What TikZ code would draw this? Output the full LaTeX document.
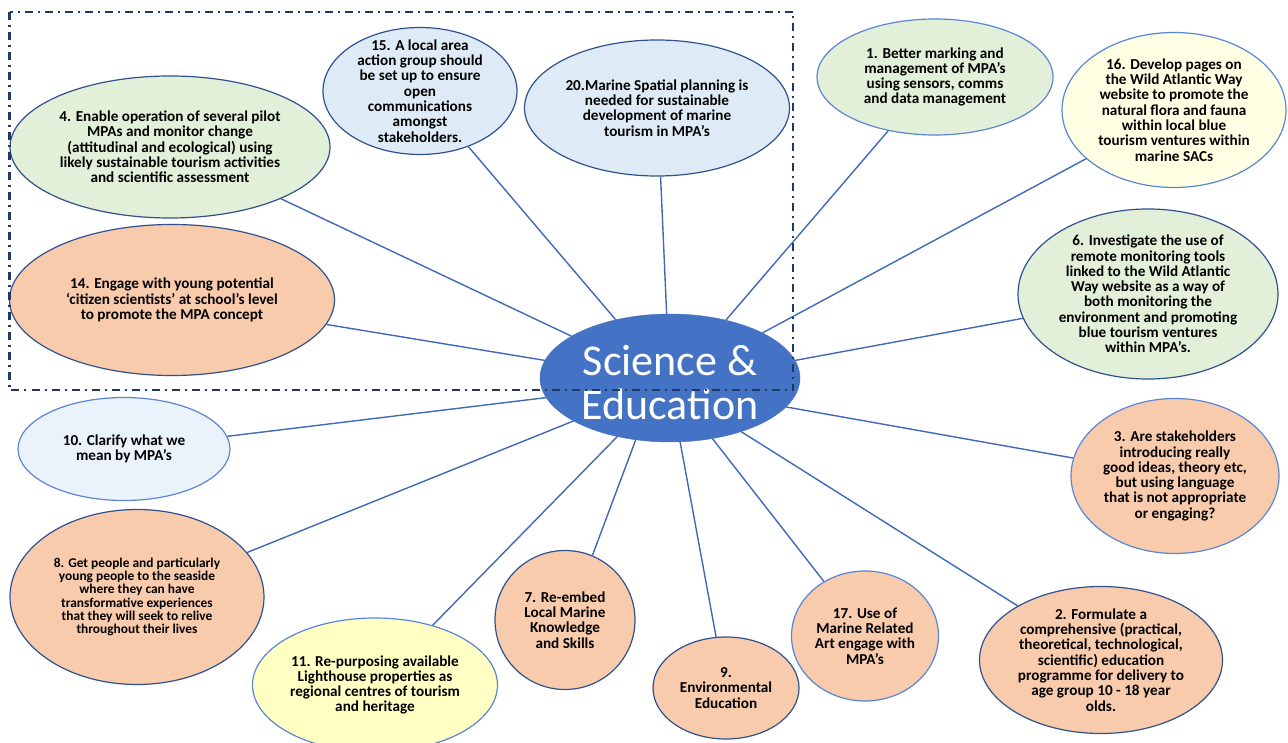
\documentclass[tikz,border=0pt]{standalone}
\usepackage{fontspec}
\setmainfont{Carlito}
\usetikzlibrary{shapes.geometric}
\definecolor{hub}{HTML}{4472C4}
\definecolor{dkb}{HTML}{2F528F}
\definecolor{ltb}{HTML}{5A86D5}
\definecolor{org}{HTML}{F8CBAD}
\definecolor{grn}{HTML}{E2F0D9}
\definecolor{blu}{HTML}{DEEBF7}
\definecolor{pbl}{HTML}{EAF2FB}
\definecolor{ylw}{HTML}{FFFFE3}
\definecolor{yl2}{HTML}{FFFFC4}
\definecolor{navy}{HTML}{1F3864}
\definecolor{conncol}{HTML}{4069B8}
\tikzset{
  bub/.style={ellipse, inner sep=-40pt, align=center, line width=1.2pt,
    font=\fontsize{15.2}{15.3}\selectfont\bfseries},
  small/.style={font=\fontsize{13.4}{13.2}\selectfont\bfseries},
  dk/.style={draw=dkb},
  lt/.style={draw=ltb},
  conn/.style={draw=conncol, line width=1.4pt},
  dashbox/.style={draw=navy, line width=2.2pt, dash pattern=on 8pt off 5pt on 2pt off 5pt},
  hubnode/.style={ellipse, fill=hub, draw=hub, inner sep=-40pt, text=white, align=center,
    font=\fontsize{44}{44}\selectfont}
}
\begin{document}
\begin{tikzpicture}[x=1pt,y=-1pt]
\useasboundingbox (0,0) rectangle (1288,743);
\fill[white] (0,0) rectangle (1288,743);

\node[hubnode, minimum width=260pt, minimum height=128pt] (sci) at (670,378)
  {\rule{0pt}{40pt}Science \&\\Education};

\node[bub, dk, fill=grn, minimum width=320pt, minimum height=142pt] (n4) at (170,147)
  {4. Enable operation of several pilot\\MPAs and monitor change\\(attitudinal and ecological) using\\likely sustainable tourism activities\\and scientific assessment};
\node[bub, dk, fill=org, minimum width=325pt, minimum height=151pt] (n14) at (172,300)
  {14. Engage with young potential\\‘citizen scientists’ at school’s level\\to promote the MPA concept};
\node[bub, dk, fill=blu, minimum width=194pt, minimum height=127pt] (n15) at (420,91)
  {15. A local area\\action group should\\be set up to ensure\\open\\communications\\amongst\\stakeholders.};
\node[bub, dk, fill=blu, minimum width=265pt, minimum height=136pt] (n20) at (657,108)
  {20.Marine Spatial planning is\\needed for sustainable\\development of marine\\tourism in MPA's};
\node[bub, lt, fill=grn, minimum width=236pt, minimum height=116pt] (n1) at (935,77)
  {1. Better marking and\\management of MPA’s\\using sensors, comms\\and data management};
\node[bub, lt, fill=ylw, minimum width=224pt, minimum height=155pt] (n16) at (1174,110)
  {16. Develop pages on\\the Wild Atlantic Way\\website to promote the\\natural flora and fauna\\within local blue\\tourism ventures within\\marine SACs};
\node[bub, dk, fill=grn, minimum width=260pt, minimum height=170pt] (n6) at (1148,294)
  {6. Investigate the use of\\remote monitoring tools\\linked to the Wild Atlantic\\Way website as a way of\\both monitoring the\\environment and promoting\\blue tourism ventures\\within MPA’s.};
\node[bub, lt, fill=pbl, minimum width=212pt, minimum height=103pt] (n10) at (124,449)
  {10. Clarify what we\\mean by MPA's};
\node[bub, dk, small, fill=org, minimum width=254pt, minimum height=175pt] (n8) at (137,597)
  {8. Get people and particularly\\young people to the seaside\\where they can have\\transformative experiences\\that they will seek to relive\\throughout their lives};
\node[bub, lt, fill=yl2, minimum width=245pt, minimum height=134pt] (n11) at (375,685)
  {11. Re-purposing available\\Lighthouse properties as\\regional centres of tourism\\and heritage};
\node[bub, dk, fill=org, minimum width=140pt, minimum height=139pt] (n7) at (565,620)
  {7. Re-embed\\Local Marine\\Knowledge\\and Skills};
\node[bub, dk, fill=org, minimum width=146pt, minimum height=102pt] (n9) at (726,688)
  {9.\\Environmental\\Education};
\node[bub, lt, fill=org, minimum width=147pt, minimum height=130pt] (n17) at (865,636)
  {17. Use of\\Marine Related\\Art engage with\\MPA's};
\node[bub, dk, fill=org, minimum width=243pt, minimum height=147pt] (n2) at (1101,660)
  {2. Formulate a\\comprehensive (practical,\\theoretical, technological,\\scientific) education\\programme for delivery to\\age group 10 - 18 year\\olds.};
\node[bub, lt, fill=org, minimum width=208pt, minimum height=155pt] (n3) at (1175,476)
  {3. Are stakeholders\\introducing really\\good ideas, theory etc,\\but using language\\that is not appropriate\\or engaging?};

\draw[conn] (sci.157.7) -- (n4.-25.3);
\draw[conn] (sci.172.8) -- (n14.-9.5);
\draw[conn] (sci.133.5) -- (n15.-49.9);
\draw[conn] (sci.93.6) -- (n20.-87.5);
\draw[conn] (sci.46.5) -- (n1.-131.1);
\draw[conn] (sci.26.3) -- (n16.-151.7);
\draw[conn] (sci.8.2) -- (n6.-169.1);
\draw[conn] (sci.189.5) -- (n10.7.2);
\draw[conn] (sci.204.4) -- (n8.22.2);
\draw[conn] (sci.228) -- (n11.46.5);
\draw[conn] (sci.241) -- (n7.67);
\draw[conn] (sci.279.7) -- (n9.101);
\draw[conn] (sci.305.3) -- (n17.127.9);
\draw[conn] (sci.323.9) -- (n2.147.3);
\draw[conn] (sci.346.4) -- (n3.170.1);

\draw[dashbox] (9.5,12) rectangle (793,390);
\end{tikzpicture}
\end{document}
